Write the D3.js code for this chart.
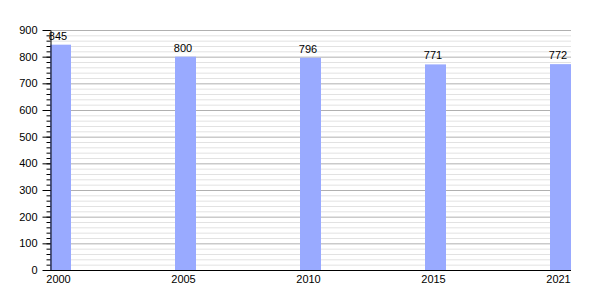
<!DOCTYPE html>
<html>
<head>
<meta charset="utf-8">
<script src="https://cdn.jsdelivr.net/npm/d3@7"></script>
<style>
  body { margin: 0; background: #fff; }
  svg text { font-family: "Liberation Sans", Arial, sans-serif; font-size: 11px; fill: #000; }
</style>
</head>
<body>
<div id="chart"></div>
<script>
// data
var years = ["2000", "2005", "2010", "2015", "2021"];
var population = [845, 800, 796, 771, 772];
var majorTicks = [0, 100, 200, 300, 400, 500, 600, 700, 800, 900];
var minorTicks = d3.range(0, 901, 20);

var width = 600, height = 300;
var margin = {top: 30, right: 29, bottom: 30, left: 50};
var barWidth = 21;

var svg = d3.select("#chart").append("svg")
  .attr("width", width)
  .attr("height", height);

var x = d3.scalePoint()
  .domain(years)
  .range([margin.left + barWidth / 2, width - margin.right - barWidth / 2]);

var y = d3.scaleLinear()
  .domain([0, 900])
  .range([height - margin.bottom, margin.top]);

// grid: light lines every 20, darker every 100
svg.append("g")
  .selectAll("line")
  .data(minorTicks.filter(function(d) { return d % 100 !== 0; }))
  .enter().append("line")
    .attr("x1", margin.left)
    .attr("x2", width - margin.right)
    .attr("y1", function(d) { return y(d) + 0.5; })
    .attr("y2", function(d) { return y(d) + 0.5; })
    .attr("stroke", "#e2e2e2");

svg.append("g")
  .selectAll("line")
  .data(majorTicks.filter(function(d) { return d > 0; }))
  .enter().append("line")
    .attr("x1", margin.left)
    .attr("x2", width - margin.right)
    .attr("y1", function(d) { return y(d) + 0.5; })
    .attr("y2", function(d) { return y(d) + 0.5; })
    .attr("stroke", "#b0b0b0");

// bars
svg.append("g")
  .selectAll("rect")
  .data(years)
  .enter().append("rect")
    .attr("x", function(d) { return x(d) - barWidth / 2; })
    .attr("y", function(d, i) { return y(population[i]); })
    .attr("width", barWidth)
    .attr("height", function(d, i) { return y(0) - y(population[i]); })
    .attr("fill", "#99aaff");

// value labels
svg.append("g")
  .selectAll("text")
  .data(years)
  .enter().append("text")
    .attr("x", function(d) { return x(d) - 2.5; })
    .attr("y", function(d, i) { return y(population[i]) - 5; })
    .attr("text-anchor", "middle")
    .text(function(d, i) { return population[i]; });

// y axis, minor ticks then labelled major ticks
svg.append("g")
  .attr("transform", "translate(" + (margin.left + 0.5) + ",0)")
  .call(d3.axisLeft(y).tickValues(minorTicks).tickSize(4).tickFormat(""))
  .call(function(g) { g.select(".domain").remove(); });

var yAxis = svg.append("g")
  .attr("transform", "translate(" + (margin.left + 0.5) + ",0)")
  .call(d3.axisLeft(y).tickValues(majorTicks).tickSize(8).tickPadding(5).tickSizeOuter(0));
yAxis.selectAll("text").style("font-size", "11px").style("font-family", "Liberation Sans, Arial, sans-serif");

// x axis
var xAxis = svg.append("g")
  .attr("transform", "translate(0," + (y(0) + 0.5) + ")")
  .call(d3.axisBottom(x).tickSize(0).tickPadding(5));
xAxis.select(".domain")
  .attr("d", "M" + margin.left + ",0H" + (width - margin.right));
xAxis.selectAll("text")
  .attr("dx", -2.5)
  .style("font-size", "11px").style("font-family", "Liberation Sans, Arial, sans-serif");
</script>
</body>
</html>
